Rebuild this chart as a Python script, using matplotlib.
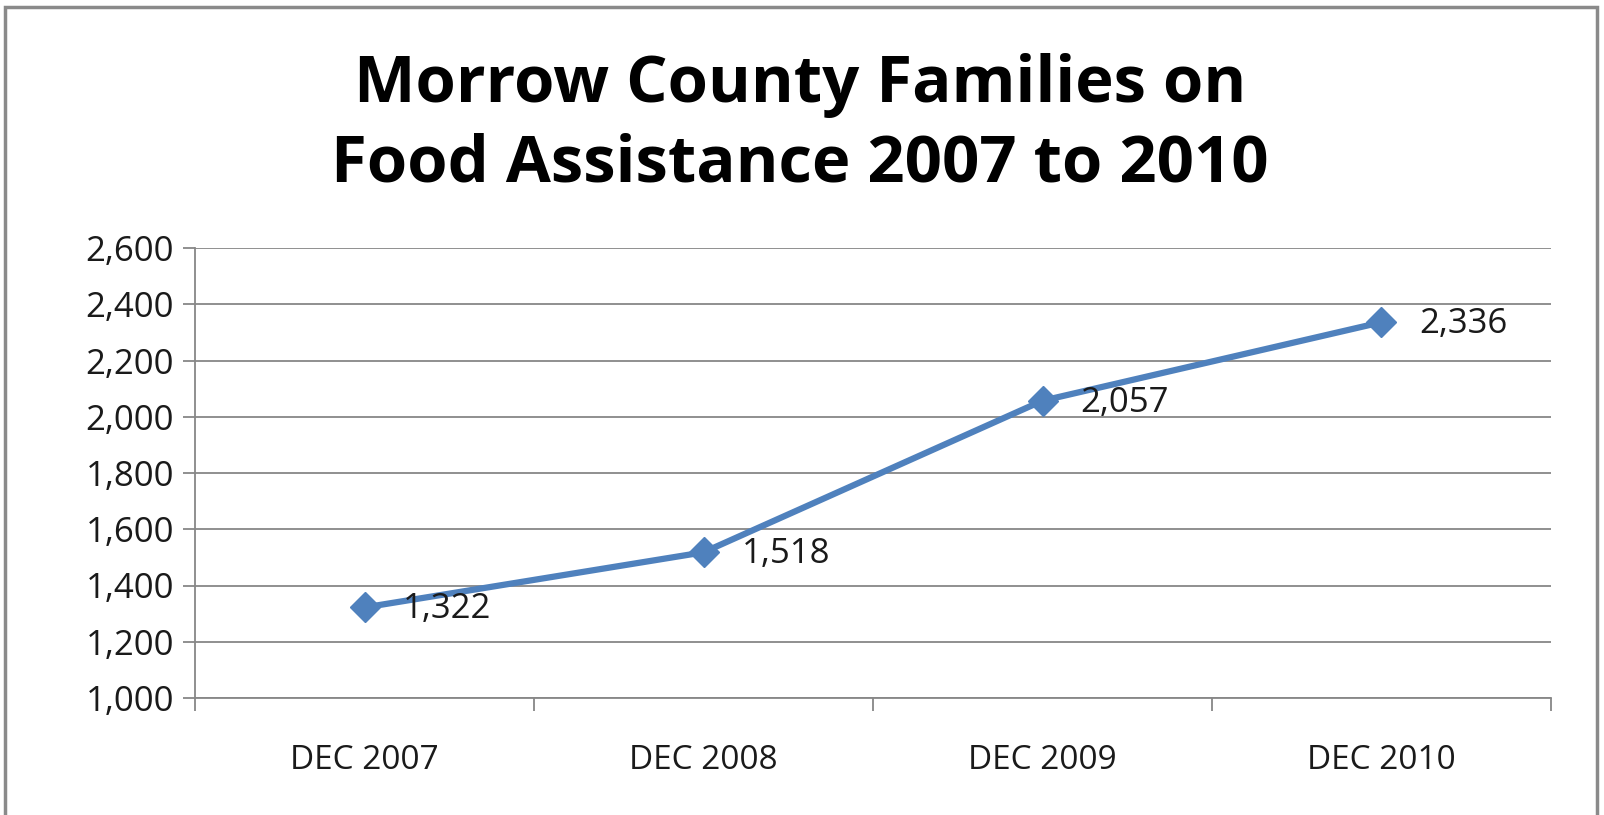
import matplotlib
matplotlib.use("Agg")
import matplotlib.pyplot as plt
from matplotlib.patches import Rectangle

# Data
categories = ["DEC 2007", "DEC 2008", "DEC 2009", "DEC 2010"]
families   = [1322, 1518, 2057, 2336]
y_ticks    = [1000, 1200, 1400, 1600, 1800, 2000, 2200, 2400, 2600]
title_lines = ["Morrow County Families on", "Food Assistance 2007 to 2010"]

LINE_COLOR = "#4F81BD"
GRID_COLOR = "#878787"
TEXT_COLOR = "#1a1a1a"

plt.rcParams["font.family"] = ["Open Sans", "DejaVu Sans"]

fig = plt.figure(figsize=(16.04, 8.15), dpi=100)
W, H = 1604, 815

# outer chart border (bottom edge is cropped off in the reference)
fig.patches.append(Rectangle((5 / W, -0.01), (1597 - 5) / W, 1.01 - 7 / H,
                             transform=fig.transFigure, fill=False,
                             edgecolor="#8a8a8a", linewidth=2.5))

ax = fig.add_axes([195 / W, 1 - 698 / H, (1551 - 195) / W, (698 - 248) / H])

x = list(range(len(categories)))
ax.plot(x, families, color=LINE_COLOR, linewidth=4.5, marker="D",
        markersize=15, markeredgecolor=LINE_COLOR, zorder=3, clip_on=False)

for xi, v in zip(x, families):
    ax.annotate(f"{v:,}", (xi, v), xytext=(38, -2), textcoords="offset pixels",
                ha="left", va="center", fontsize=25, color=TEXT_COLOR)

ax.set_xlim(-0.5, len(categories) - 0.5)
ax.set_ylim(y_ticks[0], y_ticks[-1])
ax.set_yticks(y_ticks)
ax.set_yticklabels([f"{t:,}" for t in y_ticks])
ax.yaxis.grid(True, color=GRID_COLOR, linewidth=1.3)
ax.set_axisbelow(True)

# category ticks sit between categories, labels centred on categories
ax.set_xticks([i - 0.5 for i in range(len(categories) + 1)])
ax.set_xticklabels([])
ax.set_xticks(x, minor=True)
ax.set_xticklabels(categories, minor=True)
ax.tick_params(axis="x", which="major", length=9, width=1.3, color=GRID_COLOR)
ax.tick_params(axis="x", which="minor", length=0, pad=33, labelsize=24,
               labelcolor=TEXT_COLOR)
ax.tick_params(axis="y", length=9, width=1.3, color=GRID_COLOR, pad=6,
               labelsize=25, labelcolor=TEXT_COLOR)

for side in ["top", "right"]:
    ax.spines[side].set_visible(False)
for side in ["left", "bottom"]:
    ax.spines[side].set_color(GRID_COLOR)
    ax.spines[side].set_linewidth(1.3)

# title, one line at a time on its own baseline
for line, base in zip(title_lines, [102, 182]):
    fig.text(800 / W, 1 - base / H, line, ha="center", va="baseline",
             fontsize=47, fontweight="bold", color="#000000")

fig.savefig("out.png", dpi=100)
